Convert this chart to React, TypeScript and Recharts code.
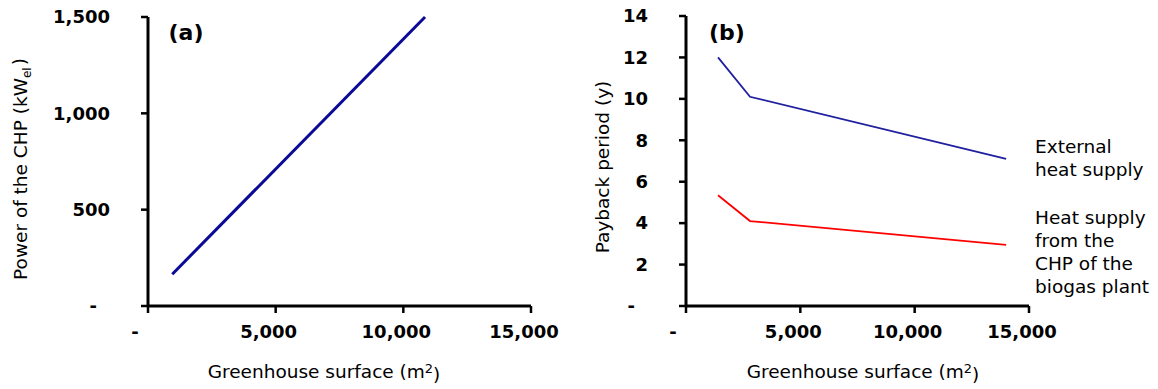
import { LineChart, Line, XAxis, YAxis } from 'recharts'

// panel (a): CHP power vs greenhouse surface
const surfaceA = [950, 10850]
const powerA = [165, 1500]

// panel (b): payback period vs greenhouse surface
const surfaceB = [1400, 2800, 14000]
const externalHeat = [12.0, 10.1, 7.1]
const chpHeat = [5.35, 4.1, 2.95]

const xTicks = [0, 5000, 10000, 15000]
const yTicksA = [0, 500, 1000, 1500]
const yTicksB = [0, 2, 4, 6, 8, 10, 12, 14]

const labelsB = ['External', 'heat supply']
const labelsChp = ['Heat supply', 'from the', 'CHP of the', 'biogas plant']

const dataA = surfaceA.map((x, i) => ({ x, power: powerA[i] }))
const dataB = surfaceB.map((x, i) => ({ x, ext: externalHeat[i], chp: chpHeat[i] }))

const FONT = "'DejaVu Sans', Verdana, sans-serif"
const tickFont = { fontFamily: FONT, fontWeight: 700, fontSize: 18, fill: '#000' }
const textFont = { fontFamily: FONT, fontSize: 18.5, fill: '#000' }

const fmt = (v: number) => (v === 0 ? '-' : v.toLocaleString('en-US'))

const XTick = ({ x, y, payload }: any) => (
  <text x={x - (payload.value === 0 ? 13 : 7)} y={y} dy="0.35em" textAnchor="middle" style={tickFont}>
    {fmt(payload.value)}
  </text>
)

const YTick = ({ x, y, payload }: any) => (
  <text x={x - (payload.value === 0 ? 13 : 0)} y={y} dy="0.35em" textAnchor="end" style={tickFont}>
    {fmt(payload.value)}
  </text>
)

const axisLine = { stroke: '#000', strokeWidth: 3 }
const tickLine = { stroke: '#000', strokeWidth: 2.5 }

export default function App() {
  return (
    <div style={{ position: 'absolute', left: 0, top: 0, width: 1158, height: 389, background: '#fff' }}>
      <div style={{ position: 'absolute', left: 0, top: 0 }}>
        <LineChart width={560} height={389} data={dataA} margin={{ top: 17, right: 29, bottom: 0, left: 0 }}>
          <XAxis
            type="number"
            dataKey="x"
            domain={[0, 15000]}
            ticks={xTicks}
            height={83}
            tickSize={7}
            tickMargin={19}
            axisLine={axisLine}
            tickLine={tickLine}
            tick={<XTick />}
          />
          <YAxis
            type="number"
            domain={[0, 1500]}
            ticks={yTicksA}
            width={148}
            tickSize={7}
            tickMargin={31}
            axisLine={axisLine}
            tickLine={tickLine}
            tick={<YTick />}
          />
          <Line dataKey="power" stroke="#0a0a96" strokeWidth={3} dot={false} isAnimationActive={false} />
        </LineChart>
      </div>
      <div style={{ position: 'absolute', left: 560, top: 0 }}>
        <LineChart width={598} height={389} data={dataB} margin={{ top: 16, right: 129, bottom: 0, left: 0 }}>
          <XAxis
            type="number"
            dataKey="x"
            domain={[0, 15000]}
            ticks={xTicks}
            height={83}
            tickSize={7}
            tickMargin={19}
            axisLine={axisLine}
            tickLine={tickLine}
            tick={<XTick />}
          />
          <YAxis
            type="number"
            domain={[0, 14]}
            ticks={yTicksB}
            width={126}
            tickSize={7}
            tickMargin={31}
            axisLine={axisLine}
            tickLine={tickLine}
            tick={<YTick />}
          />
          <Line dataKey="ext" stroke="#1f1fa0" strokeWidth={1.8} dot={false} isAnimationActive={false} />
          <Line dataKey="chp" stroke="#ff0000" strokeWidth={1.8} dot={false} isAnimationActive={false} />
        </LineChart>
      </div>
      <svg width={1158} height={389} style={{ position: 'absolute', left: 0, top: 0, pointerEvents: 'none' }}>
        <text x={186} y={32} dy="0.35em" textAnchor="middle" style={{ ...tickFont, fontSize: 22 }}>(a)</text>
        <text x={727} y={32} dy="0.35em" textAnchor="middle" style={{ ...tickFont, fontSize: 22 }}>(b)</text>

        <text x={324} y={372} dy="0.35em" textAnchor="middle" style={textFont}>
          Greenhouse surface (m<tspan fontSize="0.7em" dy="-0.45em">2</tspan><tspan dy="0.45em">)</tspan>
        </text>
        <text x={863} y={372} dy="0.35em" textAnchor="middle" style={textFont}>
          Greenhouse surface (m<tspan fontSize="0.7em" dy="-0.45em">2</tspan><tspan dy="0.45em">)</tspan>
        </text>

        <text transform="rotate(-90 21 169)" x={21} y={169} dy="0.35em" textAnchor="middle" style={{ ...textFont, fontSize: 18.5 }}>
          Power of the CHP (kW<tspan fontSize="0.65em" dy="0.3em">el</tspan><tspan dy="-0.3em" dx="2">)</tspan>
        </text>
        <text transform="rotate(-90 603 167)" x={603} y={167} dy="0.35em" textAnchor="middle" style={textFont}>
          Payback period (y)
        </text>

        {labelsB.map((t, i) => (
          <text key={t} x={1035} y={147 + i * 23} dy="0.35em" style={textFont}>{t}</text>
        ))}
        {labelsChp.map((t, i) => (
          <text key={t} x={1035} y={218 + i * 23} dy="0.35em" style={textFont}>{t}</text>
        ))}
      </svg>
    </div>
  )
}
